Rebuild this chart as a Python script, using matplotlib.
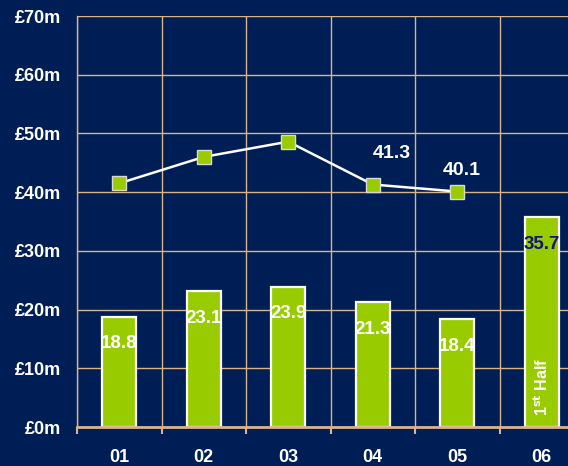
import matplotlib
matplotlib.use("Agg")
import matplotlib.pyplot as plt
from matplotlib import font_manager

categories = ["01", "02", "03", "04", "05", "06"]
bar_values = [18.8, 23.1, 23.9, 21.3, 18.4, 35.7]
line_values = [41.5, 46.0, 48.6, 41.3, 40.1]
line_labels = {3: "41.3", 4: "40.1"}
ytick_values = [0, 10, 20, 30, 40, 50, 60, 70]
ytick_labels = ["£0m", "£10m", "£20m", "£30m", "£40m", "£50m", "£60m", "£70m"]

BG = "#001e56"
GREEN = "#99cc00"
GRID = "#d9b38c"

plt.rcParams["font.family"] = ["Liberation Sans", "DejaVu Sans"]

W, H = 568, 466
fig = plt.figure(figsize=(W / 100, H / 100), dpi=100, facecolor=BG)
left, right, top, bottom = 77, 584, 16, 427
ax = fig.add_axes([left / W, 1 - bottom / H, (right - left) / W, (bottom - top) / H])
ax.set_facecolor(BG)

x = list(range(len(categories)))
ax.set_xlim(-0.5, len(categories) - 0.5)
ax.set_ylim(0, 70)

ax.set_axisbelow(True)
ax.bar(x, bar_values, width=0.40, color=GREEN, edgecolor="white", linewidth=1.6, zorder=2)

ax.plot(x[:len(line_values)], line_values, color="white", linewidth=1.8, zorder=3,
        marker="s", markersize=9.5, markerfacecolor=GREEN, markeredgecolor="#d8d8d8",
        markeredgewidth=1.0)

for i, v in enumerate(bar_values):
    col = "white" if i < len(bar_values) - 1 else "#14147a"
    ax.annotate(f"{v:.1f}", (x[i], v), xytext=(0, -19.5), textcoords="offset points",
                ha="center", va="center", color=col, fontsize=13.5, fontweight="bold",
                zorder=5)

for i, txt in line_labels.items():
    dx, dy = (13.5, 22.5) if i == 3 else (3.4, 15)
    ax.annotate(txt, (x[i], line_values[i]), xytext=(dx, dy), textcoords="offset points",
                ha="center", va="center", color="white", fontsize=14, fontweight="bold", zorder=5)

ax.text(x[5], 6.8, r"1$^{\mathbf{st}}$ Half", rotation=90, ha="center", va="center",
        color="white", fontsize=11.5, fontweight="bold", zorder=5)

ax.set_yticks(ytick_values)
ax.set_yticklabels(ytick_labels, color="white", fontsize=13, fontweight="bold")
ax.tick_params(axis="y", length=0, pad=11.5)
ax.set_xticks(x)
ax.set_xticklabels(categories, color="white", fontsize=13, fontweight="bold")
ax.tick_params(axis="x", which="major", length=0, pad=16)
ax.set_xticks([i - 0.5 for i in range(len(categories) + 1)], minor=True)
ax.tick_params(axis="x", which="minor", length=5, width=1.5, color=GRID, direction="out")

ax.grid(axis="y", color=GRID, linewidth=1.0)
ax.grid(axis="x", which="minor", color=GRID, linewidth=1.0)

for s in ["top", "right"]:
    ax.spines[s].set_visible(False)
ax.spines["left"].set_color(GRID)
ax.spines["left"].set_linewidth(1.0)
ax.spines["bottom"].set_color(GRID)
ax.spines["bottom"].set_linewidth(2.0)

fig.savefig("out.png", dpi=100, facecolor=BG)
